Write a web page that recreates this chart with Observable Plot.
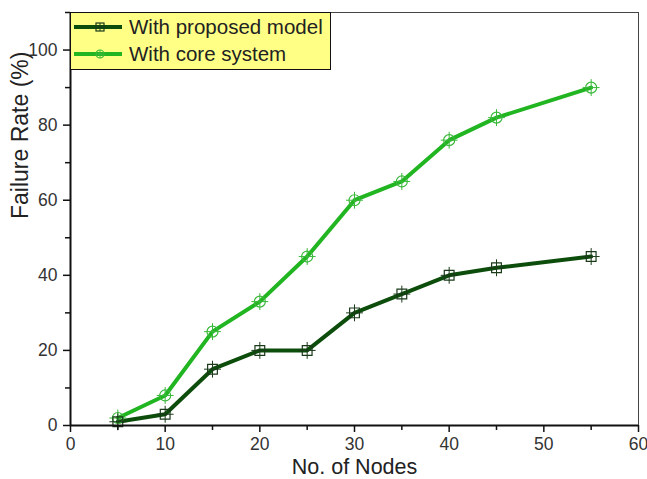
<!DOCTYPE html>
<html><head><meta charset="utf-8">
<script src="https://cdn.jsdelivr.net/npm/d3@7"></script>
<script src="https://cdn.jsdelivr.net/npm/@observablehq/plot@0.6"></script>
<style>
body{margin:0;background:#fff;font-family:"Liberation Sans",Arial,sans-serif;}
#wrap{position:relative;width:647px;height:479px;}
#legend{position:absolute;left:70px;top:12px;width:261px;height:58px;background:#ffff86;border:1.5px solid #111;box-sizing:border-box;}
.row{position:absolute;left:0;height:27px;display:flex;align-items:center;font-size:20.5px;color:#222;}
.row svg{margin-right:3px;}
</style></head><body>
<div id="wrap"></div>
<script>
const nodes = [5,10,15,20,25,30,35,40,45,55];
const proposed = [1,3,15,20,20,30,35,40,42,45];
const core = [2,8,25,33,45,60,65,76,82,90];
const seriesNames = ["With proposed model","With core system"];
const colors = ["#0c4d0c","#22b522"];
const markerColors = ["#1a3a1a","#3ab83a"];
const xTicks = [0,10,20,30,40,50,60];
const yTicks = [0,20,40,60,80,100];

const data = [];
nodes.forEach((n,i)=>{data.push({x:n,y:proposed[i],s:seriesNames[0]});});
nodes.forEach((n,i)=>{data.push({x:n,y:core[i],s:seriesNames[1]});});
const dProp = data.filter(d=>d.s===seriesNames[0]);
const dCore = data.filter(d=>d.s===seriesNames[1]);

const chart = Plot.plot({
  width:647, height:479,
  marginLeft:70, marginRight:9, marginTop:12, marginBottom:54,
  style:{fontFamily:"'Liberation Sans',Arial,sans-serif", fontSize:"17px", color:"#333", background:"#fff"},
  x:{domain:[0,60], ticks:xTicks, label:null},
  y:{domain:[0,110], ticks:yTicks, label:null},
  marks:[
    Plot.ruleY([110],{stroke:"#444",strokeWidth:1}),
    Plot.ruleX([60],{stroke:"#444",strokeWidth:1}),
    Plot.line(dCore,{x:"x",y:"y",stroke:colors[1],strokeWidth:4}),
    Plot.line(dProp,{x:"x",y:"y",stroke:colors[0],strokeWidth:4}),
    Plot.dot(dCore,{x:"x",y:"y",symbol:"circle",r:5.5,stroke:markerColors[1],strokeWidth:1.2,fill:"none"}),
    Plot.dot(dCore,{x:"x",y:"y",symbol:"plus",r:5.5,stroke:markerColors[1],strokeWidth:1,fill:"none"}),
    Plot.dot(dProp,{x:"x",y:"y",symbol:"square",r:5.5,stroke:markerColors[0],strokeWidth:1.2,fill:"none"}),
    Plot.dot(dProp,{x:"x",y:"y",symbol:"plus",r:5.5,stroke:markerColors[0],strokeWidth:1,fill:"none"}),
    Plot.axisX({ticks:xTicks, tickSize:7, tickPadding:5, stroke:"#111", strokeWidth:1.5, fill:"#333", label:null, fontSize:17.5}),
    Plot.axisX({ticks:[5,15,25,35,45,55], tickSize:5, text:null, stroke:"#111", strokeWidth:1.5, label:null}),
    Plot.axisY({ticks:yTicks, tickSize:7, tickPadding:6, stroke:"#111", strokeWidth:1.5, fill:"#333", label:null, fontSize:17.5}),
    Plot.axisY({ticks:[10,30,50,70,90,110], tickSize:5, text:null, stroke:"#111", strokeWidth:1.5, label:null}),
    Plot.ruleY([0],{stroke:"#111",strokeWidth:2}),
    Plot.ruleX([0],{stroke:"#111",strokeWidth:2}),
    Plot.text(["No. of Nodes"],{frameAnchor:"bottom", dy:42, lineAnchor:"middle", fontSize:21.5, fill:"#222"}),
    Plot.text(["Failure Rate (%)"],{frameAnchor:"left", dx:-50, rotate:-90, fontSize:23, fill:"#222"})
  ]
});
const wrap = document.getElementById("wrap");
wrap.appendChild(chart);

const legend = document.createElement("div");
legend.id="legend";
const sym = [
  '<rect x="22" y="-4" width="8" height="8" fill="none" stroke="#1a3a1a" stroke-width="1.2"/><path d="M26,-4V4M22,0H30" stroke="#1a3a1a" stroke-width="1"/>',
  '<circle cx="26" cy="0" r="4" fill="none" stroke="#3ab83a" stroke-width="1.2"/><path d="M26,-4V4M22,0H30" stroke="#3ab83a" stroke-width="1"/>'
];
seriesNames.forEach((name,i)=>{
  const r = document.createElement("div");
  r.className="row";
  r.style.top = (i===0? 0 : 27)+"px";
  r.innerHTML = `<svg width="55" height="14" viewBox="-3 -7 55 14"><line x1="0" y1="0" x2="48" y2="0" stroke="${colors[i]}" stroke-width="4"/>${sym[i]}</svg><span>${name}</span>`;
  legend.appendChild(r);
});
wrap.appendChild(legend);
</script>
</body></html>
